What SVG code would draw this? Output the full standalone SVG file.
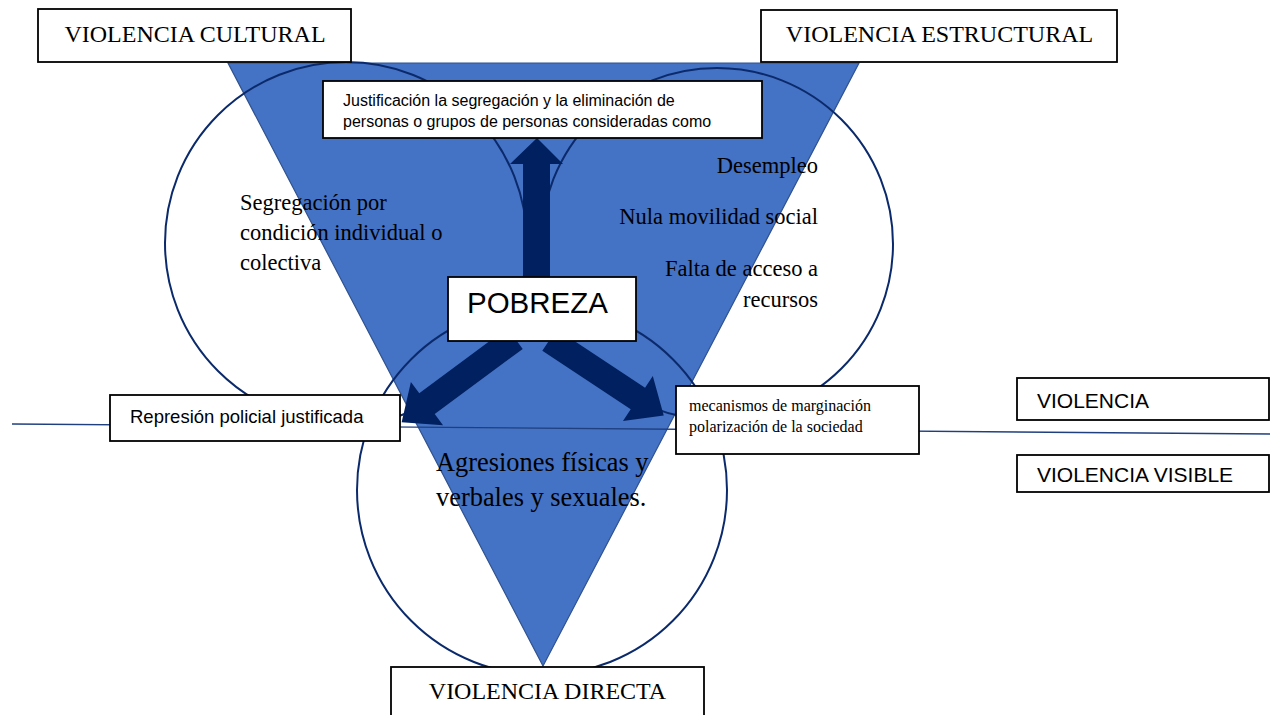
<svg xmlns="http://www.w3.org/2000/svg" width="1273" height="715" viewBox="0 0 1273 715">
<style>
.box{fill:#fff;stroke:#000;stroke-width:1.8}
.circ{fill:none;stroke:#0B2A6B;stroke-width:2}
.arr{fill:#002060;stroke:none}
.serif{font-family:"Liberation Serif","Times New Roman",serif;fill:#000}
.sans{font-family:"Liberation Sans",Arial,sans-serif;fill:#000}
</style>
<rect width="1273" height="715" fill="#fff"/>
<g id="triangle">
<polygon points="228,63 859,63 543,666" fill="#4472C4" stroke="#2F528F" stroke-width="1.2"/>
</g>
<g id="circles">
<circle id="circle-cultural" class="circ" cx="346" cy="243" r="181"/>
<circle id="circle-estructural" class="circ" cx="717" cy="244" r="176"/>
<circle id="circle-directa" class="circ" cx="542" cy="490" r="185"/>
</g>
<g id="connectors">
<line x1="12" y1="424" x2="1270" y2="434" stroke="#1F3F7F" stroke-width="1.3"/>
<polygon class="arr" points="523,278 523,164 510,164 537,138 563,164 550,164 550,278"/>
<path class="arr" transform="translate(515,338.5) rotate(143.5)" d="M0,-13 L109.5,-13 L109.5,-27 L141,0 L109.5,27 L109.5,13 L0,13 Z"/>
<path class="arr" transform="translate(549.5,340) rotate(33.5)" d="M0,-13 L106,-13 L106,-27 L137,0 L106,27 L106,13 L0,13 Z"/>
</g>
<g id="node-cultural">
<rect class="box" x="38" y="9" width="313" height="53"/>
<text class="serif" x="195" y="42" font-size="24" text-anchor="middle">VIOLENCIA CULTURAL</text>
</g>
<g id="node-estructural">
<rect class="box" x="761" y="10" width="356" height="52"/>
<text class="serif" x="939.5" y="42" font-size="24" text-anchor="middle">VIOLENCIA ESTRUCTURAL</text>
</g>
<g id="node-justificacion">
<rect class="box" x="323" y="81" width="439" height="57"/>
<text class="sans" font-size="16"><tspan x="343" y="106">Justificación la segregación y la eliminación de</tspan><tspan x="343" y="127">personas o grupos de personas consideradas como</tspan></text>
</g>
<g id="text-cultural">
<text class="serif" font-size="22.5"><tspan x="240" y="210">Segregación por</tspan><tspan x="240" y="240">condición individual o</tspan><tspan x="240" y="270">colectiva</tspan></text>
</g>
<g id="text-estructural">
<text class="serif" font-size="22.5" text-anchor="end"><tspan x="818" y="173">Desempleo</tspan><tspan x="818" y="224">Nula movilidad social</tspan><tspan x="818" y="276">Falta de acceso a</tspan><tspan x="818" y="307">recursos</tspan></text>
</g>
<g id="node-pobreza">
<rect class="box" x="448" y="277" width="188" height="64"/>
<text class="sans" x="537.5" y="313" font-size="29.5" text-anchor="middle">POBREZA</text>
</g>
<g id="node-represion">
<rect class="box" x="110" y="395" width="290" height="46"/>
<text class="sans" x="130" y="423" font-size="18.5">Represión policial justificada</text>
</g>
<g id="node-mecanismos">
<rect class="box" x="676" y="386" width="243" height="68"/>
<text class="serif" font-size="16"><tspan x="689" y="411">mecanismos de marginación</tspan><tspan x="689" y="432">polarización de la sociedad</tspan></text>
</g>
<g id="node-violencia">
<rect class="box" x="1017" y="378" width="252" height="42"/>
<text class="sans" x="1037" y="408" font-size="21">VIOLENCIA</text>
</g>
<g id="node-visible">
<rect class="box" x="1017" y="455" width="252" height="37"/>
<text class="sans" x="1037" y="482" font-size="21">VIOLENCIA VISIBLE</text>
</g>
<g id="text-directa">
<text class="serif" font-size="26.4"><tspan x="436" y="471">Agresiones físicas y</tspan><tspan x="436" y="506">verbales y sexuales.</tspan></text>
</g>
<g id="node-directa">
<rect class="box" x="391" y="667" width="313" height="60"/>
<text class="serif" x="547.5" y="699" font-size="24" text-anchor="middle">VIOLENCIA DIRECTA</text>
</g>
</svg>
